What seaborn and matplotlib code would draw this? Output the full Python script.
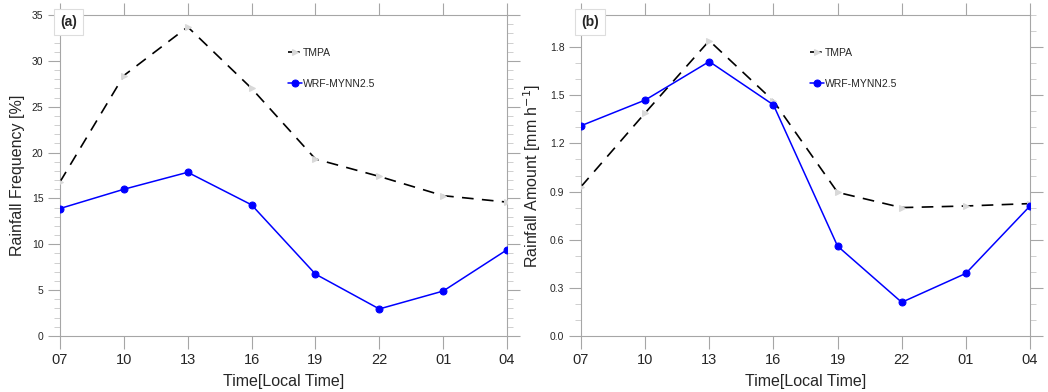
import matplotlib
matplotlib.use("Agg")
import matplotlib.pyplot as plt
import seaborn as sns
import pandas as pd
from matplotlib.ticker import MultipleLocator

times = ["07", "10", "13", "16", "19", "22", "01", "04"]
freq_tmpa = [16.8, 28.4, 33.7, 27.0, 19.3, 17.4, 15.3, 14.6]
freq_wrf = [13.9, 16.0, 17.85, 14.3, 6.75, 2.95, 4.9, 9.4]
amt_tmpa = [0.93, 1.39, 1.84, 1.465, 0.895, 0.80, 0.81, 0.825]
amt_wrf = [1.31, 1.47, 1.71, 1.44, 0.56, 0.21, 0.39, 0.81]

sns.set_style("white")
plt.rcParams["font.family"] = ["Liberation Sans", "DejaVu Sans"]

fig = plt.figure(figsize=(10.48, 3.92), dpi=100)
ax1 = fig.add_axes([60 / 1048, 56 / 392, 447 / 1048, 321 / 392])
ax2 = fig.add_axes([581 / 1048, 56 / 392, 449 / 1048, 321 / 392])

gray = "#a6a6a6"


def panel(ax, tmpa, wrf, ylim, major, minor, ylabel, tag, fmt):
    df = pd.DataFrame({"pos": range(len(times)), "TMPA": tmpa, "WRF-MYNN2.5": wrf})
    sns.lineplot(data=df, x="pos", y="TMPA", ax=ax, color="black", lw=1.2,
                 linestyle=(0, (7, 5)), marker=">", markersize=4.5,
                 markerfacecolor="#d9d9d9", markeredgecolor="#d9d9d9",
                 label="TMPA", zorder=3)
    sns.lineplot(data=df, x="pos", y="WRF-MYNN2.5", ax=ax, color="#0000ff", lw=1.1,
                 marker="o", markersize=5, markeredgecolor="#0000ff",
                 label="WRF-MYNN2.5", zorder=4)
    ax.set_xlim(0, len(times) - 1)
    ax.set_ylim(*ylim)
    ax.set_xticks(range(len(times)))
    ax.set_xticklabels(times, fontsize=10.5)
    ax.yaxis.set_major_locator(MultipleLocator(major))
    ax.yaxis.set_minor_locator(MultipleLocator(minor))
    ax.yaxis.set_major_formatter(matplotlib.ticker.FormatStrFormatter(fmt))
    ax.tick_params(axis="y", which="major", labelsize=7.5, length=9, width=0.8,
                   color=gray, direction="out", left=True, right=True, pad=3)
    ax.tick_params(axis="y", which="minor", length=4, width=0.6, color="#c8c8c8",
                   direction="out", left=True, right=True)
    ax.tick_params(axis="x", which="major", length=9, width=0.8, color=gray,
                   direction="out", bottom=True, top=True, pad=3)
    for s in ax.spines.values():
        s.set_color(gray)
        s.set_linewidth(0.8)
    ax.set_xlabel("Time[Local Time]", fontsize=11.5, labelpad=5)
    ax.set_ylabel(ylabel, fontsize=11.5, labelpad=5)
    ax.text(0.0, 1.0, tag, transform=ax.transAxes, fontsize=10, fontweight="bold",
            ha="left", va="top",
            bbox=dict(boxstyle="square,pad=0.45", fc="white", ec="#dddddd", lw=0.8))
    leg = ax.legend(loc="upper left", bbox_to_anchor=(0.5, 0.91), frameon=False,
                    fontsize=7.5, handlelength=1.4, handletextpad=0.1,
                    labelspacing=2.0, borderaxespad=0)
    return leg


panel(ax1, freq_tmpa, freq_wrf, (0, 35), 5, 1, "Rainfall Frequency [%]", "(a)", "%d")
panel(ax2, amt_tmpa, amt_wrf, (0, 2.0), 0.3, 0.1, "Rainfall Amount [mm h$^{-1}$]", "(b)", "%.1f")

fig.savefig("out.png", dpi=100)
